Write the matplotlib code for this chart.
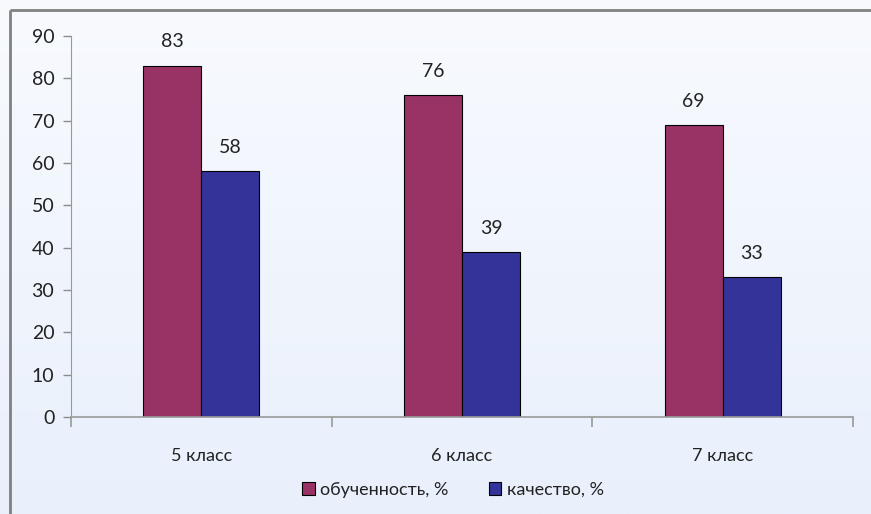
import numpy as np
import matplotlib
matplotlib.use("Agg")
import matplotlib.pyplot as plt

plt.rcParams['font.family'] = ['Lato', 'DejaVu Sans']

categories = ["5 класс", "6 класс", "7 класс"]
series_names = ["обученность, %", "качество, %"]
learning = [83, 76, 69]
quality = [58, 39, 33]
y_ticks = [0, 10, 20, 30, 40, 50, 60, 70, 80, 90]

colors = ["#993366", "#333399"]
text_color = "#222222"

fig = plt.figure(figsize=(8.71, 5.14), dpi=100)

# soft vertical gradient for the chart area background
bg = fig.add_axes([0, 0, 1, 1], zorder=-10)
grad = np.linspace(0, 1, 256).reshape(-1, 1)
top_c = np.array([0xF8, 0xFA, 0xFE]) / 255
bot_c = np.array([0xE9, 0xF0, 0xFC]) / 255
img = top_c[None, None, :] * (1 - grad[..., None]) + bot_c[None, None, :] * grad[..., None]
bg.imshow(img, aspect='auto', extent=[0, 1, 0, 1], origin='upper')
bg.set_xlim(0, 1)
bg.set_ylim(0, 1)
bg.axis('off')
# frame lines along the left and top
bg.plot([9.5 / 871, 9.5 / 871], [0, 1 - 9.5 / 514], color="#808080", lw=2, solid_capstyle='butt')
bg.plot([9.5 / 871, 1], [1 - 9.5 / 514, 1 - 9.5 / 514], color="#808080", lw=2, solid_capstyle='butt')

ax = fig.add_axes([71 / 871, 1 - 417 / 514, (853 - 71) / 871, (417 - 36) / 514])
ax.patch.set_alpha(0)

x = np.arange(len(categories))
w = 0.223
b1 = ax.bar(x - w / 2, learning, w, color=colors[0], edgecolor="black", linewidth=0.8,
            label=series_names[0])
b2 = ax.bar(x + w / 2, quality, w, color=colors[1], edgecolor="black", linewidth=0.8,
            label=series_names[1])

for bars, vals in ((b1, learning), (b2, quality)):
    for rect, v in zip(bars, vals):
        ax.annotate(str(v), (rect.get_x() + rect.get_width() / 2, v),
                    xytext=(0, 11), textcoords="offset points",
                    ha="center", va="bottom", fontsize=14, color=text_color)

ax.set_xlim(-0.5, len(categories) - 0.5)
ax.set_ylim(0, 90)
ax.set_yticks(y_ticks)
ax.set_yticklabels([str(t) for t in y_ticks])
ax.set_xticks(x)
ax.set_xticklabels(categories)
ax.tick_params(axis='x', length=0, pad=22, labelsize=13, colors=text_color)
ax.tick_params(axis='y', length=6, width=1, color="#8c8c8c", pad=6, labelsize=14,
               labelcolor=text_color)
# category separator ticks on the x axis
ax.set_xticks(np.arange(-0.5, len(categories)), minor=True)
ax.tick_params(axis='x', which='minor', length=7, width=1.2, color="#999999")

for s in ("top", "right"):
    ax.spines[s].set_visible(False)
ax.spines["left"].set_color("#999999")
ax.spines["bottom"].set_color("#999999")
ax.spines["bottom"].set_linewidth(1.2)

leg = fig.legend(handles=[b1, b2], labels=series_names, loc="center",
                 bbox_to_anchor=(453 / 871, 1 - 490 / 514), ncol=2, frameon=False,
                 fontsize=13, handlelength=0.7, handleheight=0.7, handletextpad=0.3,
                 columnspacing=2.2, labelcolor=text_color)

fig.savefig("out.png", dpi=100)
